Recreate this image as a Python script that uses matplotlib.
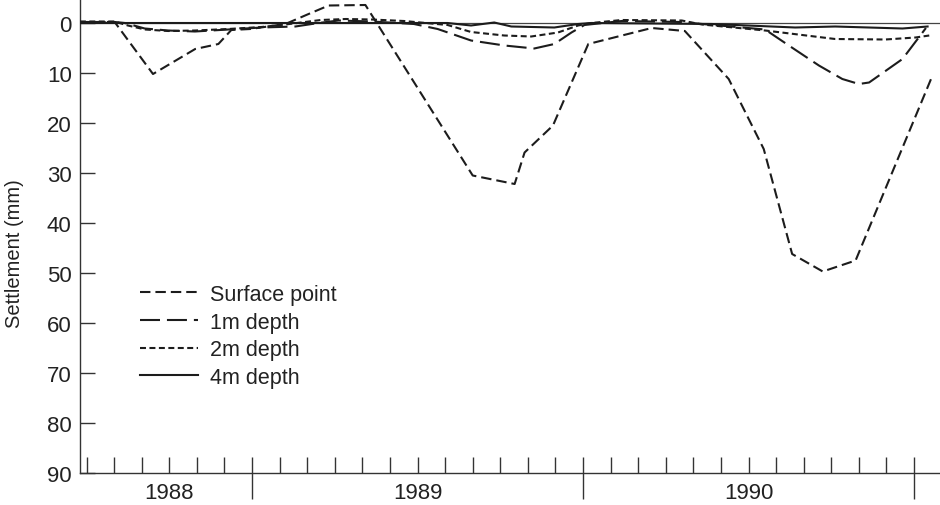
import matplotlib
matplotlib.use("Agg")
import matplotlib.pyplot as plt
from matplotlib.ticker import FixedLocator, NullFormatter

plt.rcParams['font.family'] = ['Liberation Sans', 'DejaVu Sans']
plt.rcParams['lines.scale_dashes'] = False

# time in months counted from 1 January 1988; settlement in mm (positive = down)
surface_month = [5.76, 7.02, 8.41, 9.94, 10.78, 11.25, 11.94, 13.21, 14.05, 14.78,
                 16.11, 20.00, 21.52, 21.88, 22.91, 24.19, 26.49, 27.69, 29.28,
                 30.55, 31.58, 32.69, 33.88, 36.63]
surface_mm = [-0.1, -0.2, 10.2, 5.2, 4.2, 1.4, 1.2, 0.2, -1.8, -3.5,
              -3.6, 30.5, 32.2, 25.9, 20.5, 4.2, 1.0, 1.6, 11.2,
              25.2, 46.2, 49.7, 47.5, 11.0]

depth1_month = [5.76, 7.02, 7.39, 8.11, 8.96, 9.93, 11.14, 12.34, 13.57, 14.41,
                15.14, 16.34, 17.87, 18.73, 19.94, 21.15, 22.23, 22.96, 23.58,
                24.05, 25.40, 27.58, 28.31, 30.60, 31.46, 32.55, 33.40, 34.00,
                34.37, 35.58, 36.43]
depth1_mm = [-0.2, -0.2, 0.0, 1.1, 1.5, 1.7, 1.3, 0.9, 0.7, 0.0,
             -0.5, -0.3, 0.2, 1.2, 3.5, 4.5, 5.1, 4.2, 1.9,
             0.4, -0.4, -0.2, 0.2, 1.3, 4.5, 8.5, 11.2, 12.2,
             11.9, 7.2, 1.0]

depth2_month = [5.76, 7.02, 7.50, 8.12, 8.96, 9.94, 11.14, 12.34, 13.21, 14.49,
                15.40, 16.34, 17.51, 19.09, 19.94, 21.14, 22.12, 23.09, 23.82,
                24.30, 25.40, 27.58, 28.31, 30.60, 33.14, 34.96, 36.05, 36.55]
depth2_mm = [-0.3, -0.3, 0.5, 1.3, 1.6, 1.5, 1.2, 0.8, 0.3, -0.6,
             -0.8, -0.7, -0.4, 0.4, 1.8, 2.5, 2.7, 1.9, 0.5,
             0.0, -0.6, -0.5, 0.3, 1.5, 3.2, 3.3, 2.9, 2.5]

depth4_month = [5.76, 19.09, 19.94, 20.78, 21.40, 22.96, 23.82, 24.30, 28.67,
                31.69, 33.14, 35.58, 36.49]
depth4_mm = [0.0, 0.0, 0.5, -0.1, 0.7, 0.9, 0.2, 0.0, 0.2,
             0.9, 0.7, 1.1, 0.7]

series_labels = ['Surface point', '1m depth', '2m depth', '4m depth']
year_labels = ['1988', '1989', '1990']
year_centres = [9, 18, 30]
year_starts = [12, 24, 36]
month_ticks = list(range(6, 37))
y_ticks = list(range(0, 100, 10))

ink = '#1c1c1c'
text_col = '#222222'
tick_fs = 16
leg_fs = 15.5

fig = plt.figure(figsize=(9.4, 5.06), dpi=100)
ax = fig.add_axes([80 / 940, 32 / 506, 860 / 940, 474 / 506])

ax.axhline(0, color='#444444', lw=0.9, zorder=1)

styles = [
    dict(ls=(0, (7.5, 3.6))),
    dict(ls=(0, (14.4, 5.0))),
    dict(ls=(0, (4.3, 2.5))),
    dict(ls='-'),
]
data = [(surface_month, surface_mm), (depth1_month, depth1_mm),
        (depth2_month, depth2_mm), (depth4_month, depth4_mm)]
for (xm, ym), st, lab in zip(data, styles, series_labels):
    ax.plot(xm, ym, color=ink, lw=1.5, label=lab, zorder=3, **st)

ax.set_xlim(5.764, 36.94)
ax.set_ylim(90, -4.8)

for side in ('top', 'right'):
    ax.spines[side].set_visible(False)
for side in ('left', 'bottom'):
    ax.spines[side].set_color('#333333')
    ax.spines[side].set_linewidth(1.0)

ax.set_yticks(y_ticks)
ax.set_yticklabels([str(v) for v in y_ticks])
ax.tick_params(axis='y', direction='in', length=10.8, width=1.0, color='#333333',
               pad=6, labelsize=tick_fs, labelcolor=text_col)

ax.xaxis.remove_overlapping_locs = False
ax.xaxis.set_major_locator(FixedLocator(year_starts))
ax.xaxis.set_major_formatter(NullFormatter())
ax.xaxis.set_minor_locator(FixedLocator(month_ticks))
ax.tick_params(axis='x', which='major', direction='out', length=18.5, width=1.0,
               color='#333333')
ax.tick_params(axis='x', which='minor', direction='in', length=11.5, width=1.0,
               color='#333333')

for xc, lab in zip(year_centres, year_labels):
    ax.annotate(lab, xy=(xc, 0), xycoords=('data', 'axes fraction'),
                xytext=(0, -14.3), textcoords='offset points',
                ha='center', va='center', fontsize=tick_fs, color=text_col)

fig.text(15 / 940, 1 - 254 / 506, 'Settlement (mm)', rotation=90,
         ha='center', va='center', fontsize=14.5, color=text_col)

leg = ax.legend(loc='upper left', bbox_to_anchor=(140 / 940, 1 - 285 / 506),
                bbox_transform=fig.transFigure, frameon=False, fontsize=leg_fs,
                handlelength=2.7, handletextpad=0.56, labelspacing=0.31,
                borderpad=0, borderaxespad=0)
for t in leg.get_texts():
    t.set_color(text_col)

fig.savefig('out.png', dpi=100)
